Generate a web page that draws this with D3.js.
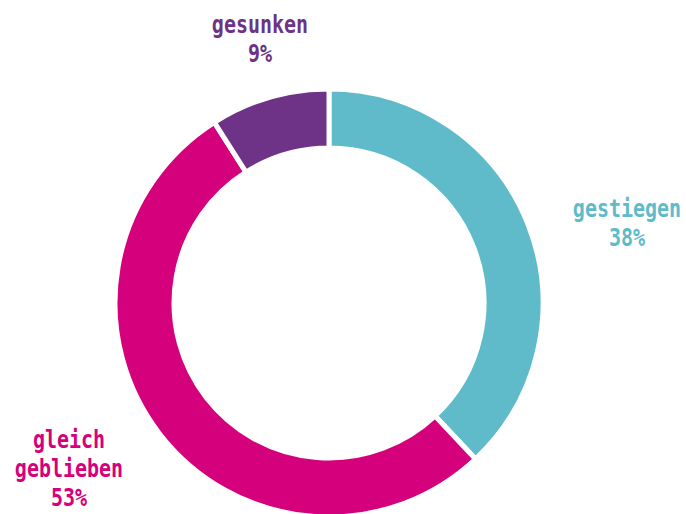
<!DOCTYPE html>
<html>
<head>
<meta charset="utf-8">
<script src="https://cdn.jsdelivr.net/npm/d3@7"></script>
<style>
  body { margin: 0; background: #fff; }
  text { font-family: "DejaVu Sans Mono", monospace; font-weight: bold; }
</style>
</head>
<body>
<div id="wrapper"></div>
<script>
// data
const categories = ["gestiegen", "gleich geblieben", "gesunken"]
const values = [38, 53, 9]
const colors = ["#5fbbca", "#d5007b", "#6e3287"]

const width = 686
const height = 514
const cx = 329
const cy = 303
const outerRadius = 214
const innerRadius = 155

const svg = d3.select("#wrapper")
  .append("svg")
  .attr("width", width)
  .attr("height", height)

const bounds = svg.append("g")
  .attr("transform", `translate(${cx},${cy})`)

const pie = d3.pie()
  .sort(null)
  .value(d => d.value)

const data = categories.map((c, i) => ({ name: c, value: values[i], color: colors[i] }))

const arc = d3.arc()
  .innerRadius(innerRadius)
  .outerRadius(outerRadius)

bounds.selectAll("path")
  .data(pie(data))
  .join("path")
  .attr("d", arc)
  .attr("fill", d => d.data.color)
  .attr("stroke", "#fff")
  .attr("stroke-width", 5)

// labels (lines split by hand like the original)
const labels = [
  { lines: ["gestiegen", "38%"], x: 627, y: 217, color: colors[0] },
  { lines: ["gleich", "geblieben", "53%"], x: 69, y: 448, color: colors[1] },
  { lines: ["gesunken", "9%"], x: 260, y: 33, color: colors[2] }
]

// the original font is a condensed mono, so stretch it a bit vertically
const stretch = 1.2
const lineGap = 29

labels.forEach(l => {
  const t = svg.append("text")
    .attr("text-anchor", "middle")
    .attr("fill", l.color)
    .attr("transform", `translate(${l.x},${l.y}) scale(1,${stretch})`)
    .style("font-size", "20px")
  l.lines.forEach((line, i) => {
    t.append("tspan")
      .attr("x", 0)
      .attr("y", i * lineGap / stretch)
      .text(line)
  })
})
</script>
</body>
</html>
